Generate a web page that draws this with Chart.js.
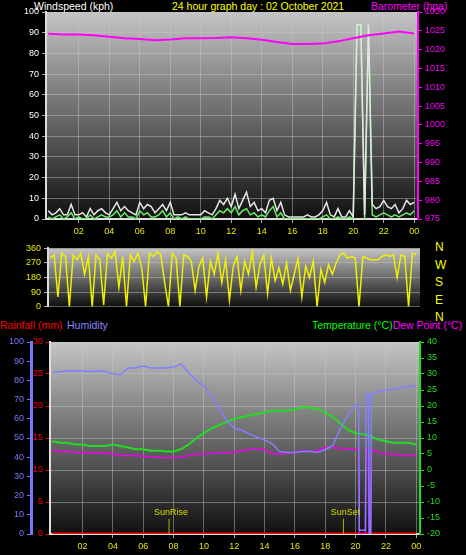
<!DOCTYPE html>
<html>
<head>
<meta charset="utf-8">
<script src="https://cdn.jsdelivr.net/npm/chart.js@4"></script>
<style>
  body { margin: 0; background: #000; width: 466px; height: 555px; overflow: hidden; font-family: "Liberation Sans", Arial, sans-serif; }
  canvas { position: absolute; left: 0; }
  .lbl { position: absolute; font-size: 10.5px; white-space: nowrap; line-height: 12px; }
</style>
</head>
<body>
<div class="lbl" style="left:34px;top:0;color:#fff">Windspeed (kph)</div>
<div class="lbl" style="left:172px;top:0;color:#ff0">24 hour graph day : 02 October 2021</div>
<div class="lbl" style="left:371px;top:0;color:#f0f">Barometer (hpa)</div>
<div class="lbl" style="left:435px;top:239px;color:#ff0;font-size:12px;line-height:17.5px">N<br>W<br>S<br>E<br>N</div>
<div class="lbl" style="left:0;top:319px;color:#f00">Rainfall (mm)</div>
<div class="lbl" style="left:67px;top:319px;color:#88f">Humidity</div>
<div class="lbl" style="left:312px;top:319px;color:#0f0">Temperature (°C)<span style="color:#f0f">Dew Point (°C)</span></div>

<canvas id="c1" width="466" height="240" style="top:0"></canvas>
<canvas id="c2" width="466" height="75" style="top:240px"></canvas>
<canvas id="c3" width="466" height="225" style="top:330px"></canvas>

<script>
// ---- data ----
const baroHours = [0,1,2,3,4,5,6,7,8,9,10,11,12,13,14,15,16,17,18,19,20,21,22,23,24];
const baroValues = [1024.2,1024,1024,1023.8,1023.4,1023,1022.8,1022.5,1022.7,1023,1023,1023.1,1023.3,1023,1022.6,1022,1021.5,1021.5,1021.6,1022.2,1023,1023.8,1024.3,1024.8,1024.3];

// quarter-hour samples 00:00 .. 24:00
const windGust = [4,2,3,5, 2,2,7,2, 2,3,1,5, 2,4,5,3, 2,5,8,4, 6,4,3,2, 8,5,7,6, 3,5,7,4,
  8,2,2,2, 3,2,2,2, 2,4,3,2, 5,9,7,10, 6,12,5,9, 13,6,8,4, 5,3,9,10, 4,8,2,1,
  1,1,1,1, 2,1,1,2, 4,8,2,1, 5,1,1,4, 1,94,94,2, 94,7,5,6, 9,6,5,7, 3,5,9,7, 8];
const windAvg = [1,0,1,2, 0,1,3,0, 1,0,0,2, 0,1,2,1, 1,2,4,1, 3,1,1,0, 4,2,3,1, 1,2,4,1,
  3,0,1,0, 1,0,0,0, 0,1,1,0, 2,4,3,5, 3,6,2,4, 5,2,3,1, 2,1,4,6, 1,3,0,0,
  0,0,0,0, 0,0,0,0, 1,2,0,0, 1,0,0,1, 0,93,93,0, 93,2,1,2, 3,2,1,2, 1,2,3,2, 4];
const windDir = [300,320,60,330, 310,0,320,290, 330,200,310,0, 320,290,10,330, 300,340,120,310,
  0,320,280,330, 240,0,330,310, 340,320,150,0, 330,300,0,320, 310,280,100,250,
  300,60,280,200, 330,150,290,40, 250,310,100,280, 200,340,120,260, 320,80,300,160,
  240,140,270,100, 200,300,60,250, 180,280,0,230, 150,260,200,270, 320,330,300,310,
  300,0,310,300, 290,290,290,310, 320,310,320,180, 320,310,0,330, 320];

const sensorHours = [0,0.5,1,1.5,2,2.5,3,3.5,4,4.5,5,5.5,6,6.5,7,7.5,8,8.5,9,9.5,10,10.5,11,11.5,12,12.5,
  13,13.5,14,14.5,15,15.5,16,16.5,17,17.5,18,18.5,19,19.5,20,20.2,20.25,20.65,20.7,20.85,20.9,21,21.05,
  21.5,22,22.5,23,23.5,24];
const humidity = [84,84.5,85,85,85,84.5,85,84.5,83.5,83,86.5,86.5,87.5,86.5,86.5,86.5,87,88.5,84,80,77,72,
  66,59,55,54,52,50.5,49,47,43,42.5,42.5,43,43,42.5,44,46,55,62,67,68,2,2,73,73,0,0,73,74,75,75.5,76,77,77];
const temperature = [9,8.5,8.5,8,8,7.5,7.5,7.5,8,7.5,7,6.5,6.5,6,6,5.8,5.8,6.5,8,10,11.5,13,14,15,16,16.5,
  17,17.5,18,18.5,18.5,18.5,19,19.5,19.5,19,18,16.5,14.5,12.5,11.5,11.3,11.3,11,11,10.8,10.8,10.5,10.5,
  9.5,9,8.5,8.5,8.5,8];
const dewPoint = [6,5.8,5.8,5.5,5.5,5.3,5.3,5.3,5,4.5,4.5,4.5,4.3,4,4,3.8,3.8,4,4.5,5,5,5.2,5.5,5.5,5.5,6,
  6.5,6.5,6.5,5,5,5.3,5.5,6,5.8,6,7,7,6.8,6.5,6.5,6.5,-20,-20,6.5,6.5,-20,-20,6.5,5.5,5,5,4.5,4.5,4.5];
const rainHours = [0, 24];
const rainfall = [0, 0];
const sunEvents = [{ label: 'SunRise', hour: 7.7 }, { label: 'SunSet', hour: 19.2 }];

const xTicks = [2,4,6,8,10,12,14,16,18,20,22,24];

// ---- helpers ----
const quarter = (i) => i * 0.25;
const pts = (xs, ys) => ys.map((y, i) => ({ x: xs[i], y }));
const qpts = (ys) => ys.map((y, i) => ({ x: quarter(i), y }));
const FONT = { family: 'Liberation Sans, Arial, sans-serif', size: 9 };
const GRID = 'rgba(200,200,200,0.45)';

Chart.defaults.animation = false;
Chart.defaults.font = FONT;

const bgPlugin = {
  id: 'bg',
  beforeDraw(chart) {
    const { ctx, chartArea: a } = chart;
    const g = ctx.createLinearGradient(0, a.top, 0, a.bottom);
    g.addColorStop(0, '#c4c4c4');
    g.addColorStop(1, '#101010');
    ctx.save();
    ctx.fillStyle = g;
    ctx.fillRect(a.left, a.top, a.right - a.left, a.bottom - a.top);
    ctx.restore();
  },
};

function xScale(display) {
  return {
    type: 'linear', min: -0.15, max: 24.25,
    afterBuildTicks: (s) => { s.ticks = xTicks.map((v) => ({ value: v })); },
    afterFit: (s) => { s.height = display ? 21 : 0; },
    display,
    ticks: { color: '#e8e800', callback: (v) => String(v % 24).padStart(2, '0'), maxRotation: 0, autoSkip: false },
    grid: { color: GRID, tickLength: 4, tickColor: '#aaa' },
    border: { color: '#ddd', width: 2 },
  };
}

function line(data, color, width, axis) {
  return { data, borderColor: color, borderWidth: width, pointRadius: 0, fill: false, tension: 0, yAxisID: axis };
}

const baseOpts = (padding, scales) => ({
  responsive: false,
  layout: { padding },
  plugins: { legend: { display: false }, tooltip: { enabled: false } },
  scales,
});

// ---- chart 1: wind + barometer ----
new Chart(document.getElementById('c1'), {
  type: 'line',
  data: { datasets: [
    line(pts(baroHours, baroValues), '#ff00ff', 2, 'yb'),
    line(qpts(windGust), '#e6e6e6', 1.5, 'y'),
    line(qpts(windAvg), '#66ee66', 1.5, 'y'),
  ] },
  options: baseOpts({ top: 12, left: 0, right: 0, bottom: 0 }, {
    x: xScale(true),
    y: {
      min: 0, max: 100, afterFit: (s) => { s.width = 46; },
      ticks: { stepSize: 10, color: '#fff' },
      grid: { color: GRID, tickLength: 4, tickColor: '#aaa' },
      border: { color: '#ddd', width: 2 },
    },
    yb: {
      position: 'right', min: 975, max: 1030, afterFit: (s) => { s.width = 48; },
      ticks: { stepSize: 5, color: '#ff00ff', callback: (v) => String(v) },
      grid: { drawOnChartArea: false, tickLength: 4, tickColor: '#ff00ff' },
      border: { color: '#ff00ff', width: 2 },
    },
  }),
  plugins: [bgPlugin],
});

// ---- chart 2: wind direction ----
new Chart(document.getElementById('c2'), {
  type: 'line',
  data: { datasets: [line(qpts(windDir), '#f0f000', 1.5, 'y')] },
  options: baseOpts({ top: 6, left: 0, right: 46, bottom: 5 }, {
    x: xScale(false),
    y: {
      min: 0, max: 360, afterFit: (s) => { s.width = 48; },
      ticks: { stepSize: 90, color: '#e8e800' },
      grid: { color: GRID, tickLength: 4, tickColor: '#aaa' },
      border: { color: '#ddd', width: 2 },
    },
  }),
  plugins: [bgPlugin],
});

// ---- chart 3: rain, humidity, temperature, dew point ----
const sunPlugin = {
  id: 'sun',
  afterDatasetsDraw(chart) {
    const { ctx } = chart;
    const x = chart.scales.x, yh = chart.scales.yh;
    ctx.save();
    ctx.strokeStyle = '#b0b000';
    ctx.fillStyle = '#d8d800';
    ctx.font = '9px Liberation Sans, Arial, sans-serif';
    ctx.textAlign = 'center';
    sunEvents.forEach((e) => {
      const px = x.getPixelForValue(e.hour);
      ctx.beginPath();
      ctx.moveTo(px, yh.getPixelForValue(0));
      ctx.lineTo(px, yh.getPixelForValue(8));
      ctx.stroke();
      ctx.fillText(e.label, px + 2, yh.getPixelForValue(10));
    });
    ctx.restore();
  },
};

new Chart(document.getElementById('c3'), {
  type: 'line',
  data: { datasets: [
    line(pts(sensorHours, humidity), '#8080ff', 1.5, 'yh'),
    line(pts(sensorHours, temperature), '#22dd22', 2, 'yt'),
    line(pts(sensorHours, dewPoint), '#ee00ee', 1.5, 'yt'),
    line(pts(rainHours, rainfall), '#ff0000', 3, 'yr'),
  ] },
  options: baseOpts({ top: 12, left: 0, right: 0, bottom: 0 }, {
    x: xScale(true),
    yr: {
      min: 0, max: 30, afterFit: (s) => { s.width = 19; },
      ticks: { stepSize: 5, color: '#ff0000' },
      grid: { color: GRID, tickLength: 4, tickColor: '#ff0000' },
      border: { color: '#ddd', width: 2 },
    },
    yh: {
      min: 0, max: 100, afterFit: (s) => { s.width = 31; },
      ticks: { stepSize: 10, color: '#7878ff' },
      grid: { drawOnChartArea: false, tickLength: 4, tickColor: '#7878ff' },
      border: { color: '#7878ff', width: 3 },
    },
    yt: {
      position: 'right', min: -20, max: 40, afterFit: (s) => { s.width = 46; },
      ticks: { stepSize: 5, color: '#22dd22' },
      grid: { drawOnChartArea: false, tickLength: 4, tickColor: '#22dd22' },
      border: { color: '#22dd22', width: 2 },
    },
  }),
  plugins: [bgPlugin, sunPlugin],
});
</script>
</body>
</html>
